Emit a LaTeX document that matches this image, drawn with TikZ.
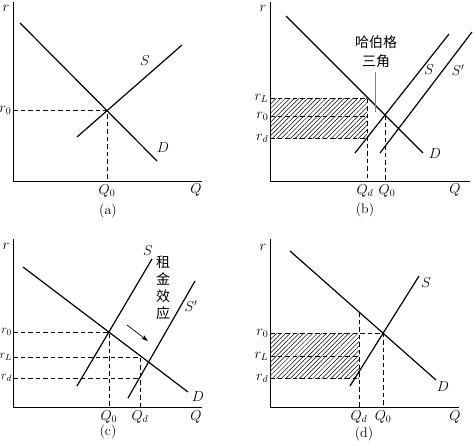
\documentclass[tikz,border=0pt]{standalone}
\usepackage{fontspec}
\newfontfamily\cjk{Noto Sans CJK SC}
\usetikzlibrary{arrows.meta,patterns.meta,calc}

\begin{document}
\begin{tikzpicture}[x=1pt,y=-1pt,
    font=\fontsize{14pt}{17pt}\selectfont,
    axisline/.style={line width=0.9pt},
    curve/.style={line width=1.2pt},
    guide/.style={line width=0.6pt, dash pattern=on 4.5pt off 3pt},
    hatch/.style={pattern={Lines[angle=45,distance=3.2pt,line width=0.5pt]}},
    tickr/.style={anchor=east, inner sep=0.5pt},
    tickq/.style={anchor=north, inner sep=1pt}
]
\useasboundingbox (0,0) rectangle (474,447);

% (a)
\coordinate (aO) at (13,181);
\coordinate (aT) at (13,2);
\coordinate (aR) at (202,181);
\coordinate (aD1) at (20,23);  \coordinate (aD2) at (157,161);
\coordinate (aS1) at (77,137); \coordinate (aS2) at (182,45);
\coordinate (aE) at (intersection of aD1--aD2 and aS1--aS2);
\draw[guide] (aO |- aE) -- (aE) -- (aO -| aE);
\draw[axisline] (aT) -- (aO) -- (aR);
\draw[curve] (aD1) -- (aD2);
\draw[curve] (aS1) -- (aS2);
\node (ar) at (6,8) {$r$};
\node (aQ) at (196,190) {$Q$};
\node[tickr] (ar0) at ($(aO |- aE)+(-1,0)$) {$r_0$};
\node[tickq] (aQ0) at ($(aO -| aE)+(0,2)$) {$Q_0$};
\node (aSl) at (145,61) {$S$};
\node (aDl) at (163,148) {$D$};
\node (acap) at (108,211) {(a)};

% (b)
\coordinate (bO) at (270,181);
\coordinate (bT) at (270,2);
\coordinate (bR) at (470,181);
\coordinate (bD1) at (286,16);  \coordinate (bD2) at (423,153);
\coordinate (bS1) at (355,153); \coordinate (bS2) at (449,34);
\coordinate (bP1) at (380,153); \coordinate (bP2) at (472,32);
\coordinate (bE) at (intersection of bD1--bD2 and bS1--bS2);
\coordinate (bL) at (367,98);
\coordinate (bd) at (367,138);
\coordinate (bm) at (367,116);
\fill[hatch] (bO |- bL) rectangle (bd);
\draw[guide] (bO |- bL) -- (bL) -- (bO -| bL);
\draw[guide] (bO |- bm) -- (bm);
\draw[guide] (bO |- bd) -- (bd);
\draw[guide] (bE) -- (bO -| bE);
\draw[axisline] (bT) -- (bO) -- (bR);
\draw[curve] (bD1) -- (bD2);
\draw[curve] (bS1) -- (bS2);
\draw[curve] (bP1) -- (bP2);
\node (br) at (263,8) {$r$};
\node (bQ) at (455,190) {$Q$};
\node[tickr] (brL) at ($(bO |- bL)+(-1,0)$) {$r_L$};
\node[tickr] (br0) at ($(bO |- bm)+(-1,0)$) {$r_0$};
\node[tickr] (brd) at ($(bO |- bd)+(-1,0)$) {$r_d$};
\node[tickq] (bQd) at ($(bO -| bL)+(-2,2)$) {$Q_d$};
\node[tickq] (bQ0) at ($(bO -| bE)+(2,2)$) {$Q_0$};
\node (bSl) at (429,70) {$S$};
\node (bPl) at (458,70) {$S'$};
\node (bDl) at (435,154) {$D$};
\node[align=center, font=\fontsize{14pt}{19pt}\selectfont\cjk] (bH) at (376,52) {哈伯格\\三角};
\coordinate (bHp) at (375,112);
\draw[gray, line width=0.9pt] (bH.south -| bHp) -- (bHp);
\node (bcap) at (365,210) {(b)};

% (c)
\coordinate (cO) at (13,407);
\coordinate (cT) at (13,239);
\coordinate (cR) at (202,407);
\coordinate (cD1) at (23,267);  \coordinate (cD2) at (188,392);
\coordinate (cS1) at (77,386);  \coordinate (cS2) at (152,259);
\coordinate (cP1) at (128,398); \coordinate (cP2) at (195,281);
\coordinate (cE) at (intersection of cD1--cD2 and cS1--cS2);
\coordinate (cL) at (140,357);
\coordinate (cd) at (140,378);
\draw[guide] (cO |- cE) -- (cE) -- (cO -| cE);
\draw[guide] (cO |- cL) -- (cL) -- (cO -| cL);
\draw[guide] (cO |- cd) -- (cd);
\draw[axisline] (cT) -- (cO) -- (cR);
\draw[curve] (cD1) -- (cD2);
\draw[curve] (cS1) -- (cS2);
\draw[curve] (cP1) -- (cP2);
\node (cr) at (6,246) {$r$};
\node (cQ) at (196,417) {$Q$};
\node[tickr, font=\fontsize{13pt}{15pt}\selectfont] (cr0) at ($(cO |- cE)+(-0.5,0)$) {$r_0$};
\node[tickr, font=\fontsize{12.5pt}{15pt}\selectfont] (crL) at ($(cO |- cL)+(-0.3,0)$) {$r_L$};
\node[tickr, font=\fontsize{13pt}{15pt}\selectfont] (crd) at ($(cO |- cd)+(-0.5,0)$) {$r_d$};
\node[tickq] (cQ0) at ($(cO -| cE)+(0,2)$) {$Q_0$};
\node[tickq] (cQd) at ($(cO -| cL)+(0,2)$) {$Q_d$};
\node (cSl) at (148,251) {$S$};
\node (cPl) at (191,306) {$S'$};
\node (cDl) at (198,397) {$D$};
\node[align=center, font=\fontsize{14pt}{17pt}\selectfont\cjk] (cH) at (163,288) {租\\金\\效\\应};
\coordinate (cA1) at (127,325);
\coordinate (cA2) at (148,341);
\draw[-{Stealth[length=7pt,width=4.5pt]}, line width=0.7pt] (cA1) -- (cA2);
\node (ccap) at (108,432) {(c)};

% (d)
\coordinate (dO) at (270,407);
\coordinate (dT) at (270,239);
\coordinate (dR) at (459,407);
\coordinate (dD1) at (290,251); \coordinate (dD2) at (436,380);
\coordinate (dS1) at (350,386); \coordinate (dS2) at (419,276);
\coordinate (dE) at (intersection of dD1--dD2 and dS1--dS2);
\coordinate (dU) at (359,312);
\coordinate (dL) at (359,356);
\coordinate (dd) at (359,378);
\fill[hatch] (dO |- dE) rectangle (dd);
\draw[guide] (dO |- dE) -- (dE) -- (dO -| dE);
\draw[guide] (dU) -- (dO -| dU);
\draw[guide] (dO |- dL) -- (dL);
\draw[guide] (dO |- dd) -- (dd);
\draw[axisline] (dT) -- (dO) -- (dR);
\draw[curve] (dD1) -- (dD2);
\draw[curve] (dS1) -- (dS2);
\node (dr) at (263,247) {$r$};
\node (dQ) at (455,417) {$Q$};
\node[tickr] (dr0) at ($(dO |- dE)+(-1,0)$) {$r_0$};
\node[tickr] (drL) at ($(dO |- dL)+(-1,0)$) {$r_L$};
\node[tickr] (drd) at ($(dO |- dd)+(-1,0)$) {$r_d$};
\node[tickq] (dQd) at ($(dO -| dU)+(0,2)$) {$Q_d$};
\node[tickq] (dQ0) at ($(dO -| dE)+(0,2)$) {$Q_0$};
\node (dSl) at (426,283) {$S$};
\node (dDl) at (443,387) {$D$};
\node (dcap) at (364,434) {(d)};
\end{tikzpicture}
\end{document}
